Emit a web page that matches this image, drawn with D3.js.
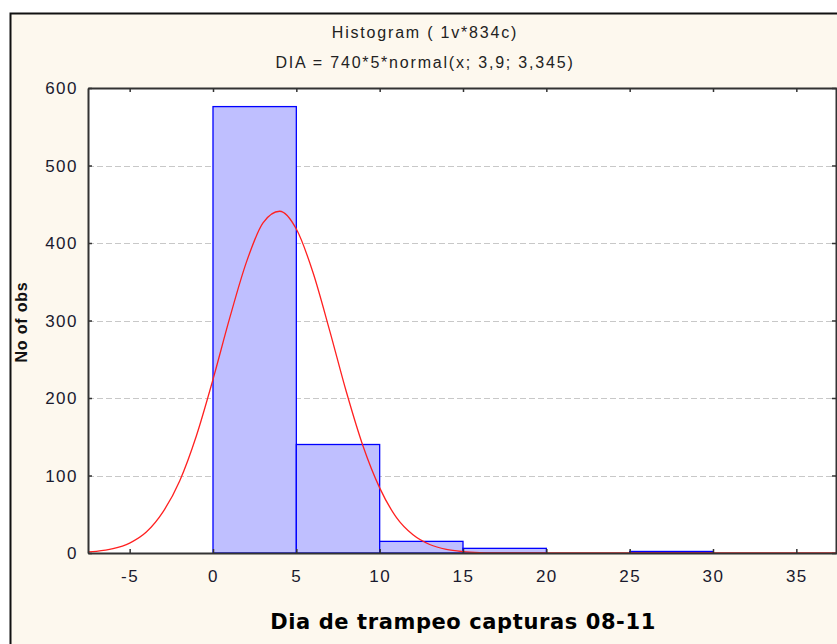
<!DOCTYPE html>
<html>
<head>
<meta charset="utf-8">
<script src="https://cdn.jsdelivr.net/npm/d3@7"></script>
<style>
  html, body { margin: 0; padding: 0; background: #fff; }
  svg { display: block; }
</style>
</head>
<body>
<svg width="837" height="644"></svg>
<script>
// histogram bins (lower edge, upper edge, count)
const binStart = [0, 5, 10, 15, 20, 25, 30];
const binEnd   = [5, 10, 15, 20, 25, 30, 35];
const counts   = [576, 140, 15, 6, 0, 2, 0];

// fitted normal curve
const curveX = [-7.5, -7, -6, -5, -4, -3, -2, -1, 0, 1, 2, 3, 4, 5, 6, 7, 8, 9, 10, 11, 12, 13, 14, 15, 16, 17, 18, 20, 25, 30, 37.5];
const curveY = [1.5, 2.2, 5.5, 12.8, 27, 53, 93, 151, 224, 303, 375, 426, 441, 418, 362, 287, 208, 138, 84, 46, 23.5, 11, 4.6, 1.8, 0.6, 0.2, 0, 0, 0, 0, 0];

const xTicks = [-5, 0, 5, 10, 15, 20, 25, 30, 35];
const yTicks = [0, 100, 200, 300, 400, 500, 600];

const title = 'Histogram ( 1v*834c)';
const subtitle = 'DIA = 740*5*normal(x; 3,9; 3,345)';
const xTitle = 'Dia de trampeo capturas 08-11';
const yTitle = 'No of obs';

const svg = d3.select('svg');
const pL = 88, pR = 837, pT = 88, pB = 553;
const sans = '"Liberation Sans", Arial, sans-serif';

const x = d3.scaleLinear().domain([-7.5, 37.5]).range([pL, 838]);
const y = d3.scaleLinear().domain([0, 600]).range([pB, pT]);

// outer frame
svg.append('rect')
  .attr('x', 10.5).attr('y', 13.5)
  .attr('width', 840).attr('height', 640)
  .attr('fill', '#fdf8ee')
  .attr('stroke', '#111').attr('stroke-width', 2);

// plot area
svg.append('rect')
  .attr('x', pL).attr('y', pT)
  .attr('width', pR - pL).attr('height', pB - pT)
  .attr('fill', '#fff');

svg.append('clipPath').attr('id', 'clip')
  .append('rect')
  .attr('x', pL).attr('y', pT)
  .attr('width', pR - pL).attr('height', pB - pT + 1);

// grid
svg.append('g')
  .selectAll('line')
  .data(yTicks.filter(d => d > 0 && d < 600))
  .enter().append('line')
    .attr('x1', pL).attr('x2', pR)
    .attr('y1', d => Math.round(y(d)) + 0.5)
    .attr('y2', d => Math.round(y(d)) + 0.5)
    .attr('stroke', '#c8c8c8')
    .attr('stroke-dasharray', '6,3');

// bars
const bins = binStart.map((s, i) => ({ s: s, e: binEnd[i], n: counts[i] }));
svg.append('g')
  .selectAll('rect')
  .data(bins.filter(d => d.n > 0))
  .enter().append('rect')
    .attr('x', d => x(d.s))
    .attr('y', d => y(d.n))
    .attr('width', d => x(d.e) - x(d.s))
    .attr('height', d => y(0) - y(d.n))
    .attr('fill', '#bfbfff')
    .attr('stroke', '#0000ff')
    .attr('stroke-width', 1.3);

// normal curve
const line = d3.line()
  .x(d => x(d[0]))
  .y(d => y(d[1]))
  .curve(d3.curveMonotoneX);

svg.append('path')
  .datum(curveX.map((v, i) => [v, curveY[i]]))
  .attr('clip-path', 'url(#clip)')
  .attr('d', line)
  .attr('fill', 'none')
  .attr('stroke', '#ff2020')
  .attr('stroke-width', 1.3);

// axes (ticks pointing inward)
const frameCol = '#333';
const axB = svg.append('g').attr('transform', `translate(0,${pB})`)
  .call(d3.axisBottom(x).tickValues(xTicks).tickFormat(d => String(d))
    .tickSizeInner(-4).tickSizeOuter(0).tickPadding(17));
const axT = svg.append('g').attr('transform', `translate(0,${pT})`)
  .call(d3.axisTop(x).tickValues(xTicks).tickSizeInner(-4).tickSizeOuter(0).tickFormat(''));
const axL = svg.append('g').attr('transform', `translate(${pL},0)`)
  .call(d3.axisLeft(y).tickValues(yTicks).tickSizeInner(-4).tickSizeOuter(0).tickPadding(10));
const axR = svg.append('g').attr('transform', `translate(${pR - 1},0)`)
  .call(d3.axisRight(y).tickValues(yTicks).tickSizeInner(-4).tickSizeOuter(0).tickFormat(''));

[axB, axT, axL, axR].forEach(a => {
  a.select('.domain').attr('stroke', frameCol).attr('stroke-width', 2);
  a.selectAll('.tick line').attr('stroke', frameCol).attr('stroke-width', 1.5);
  a.selectAll('.tick text')
    .attr('fill', '#1a1a2e')
    .style('font-family', sans)
    .style('font-size', '17px')
    .style('letter-spacing', '1.5px');
});
axL.selectAll('.tick text').attr('dy', '0.35em');

// titles
svg.append('text')
  .attr('x', 425).attr('y', 38)
  .attr('text-anchor', 'middle')
  .style('font-family', sans)
  .style('font-size', '16px')
  .style('letter-spacing', '1.8px')
  .attr('fill', '#222')
  .text(title);

svg.append('text')
  .attr('x', 425).attr('y', 68)
  .attr('text-anchor', 'middle')
  .style('font-family', sans)
  .style('font-size', '16px')
  .style('letter-spacing', '1.8px')
  .attr('fill', '#222')
  .text(subtitle);

svg.append('text')
  .attr('x', 463).attr('y', 629)
  .attr('text-anchor', 'middle')
  .style('font-family', '"DejaVu Sans", sans-serif')
  .style('font-size', '21px')
  .style('font-weight', 'bold')
  .style('letter-spacing', '0.6px')
  .attr('fill', '#000')
  .text(xTitle);

svg.append('text')
  .attr('transform', 'translate(27,322) rotate(-90)')
  .attr('text-anchor', 'middle')
  .style('font-family', sans)
  .style('font-size', '16px')
  .style('font-weight', 'bold')
  .style('letter-spacing', '0.8px')
  .attr('fill', '#111')
  .text(yTitle);
</script>
</body>
</html>
